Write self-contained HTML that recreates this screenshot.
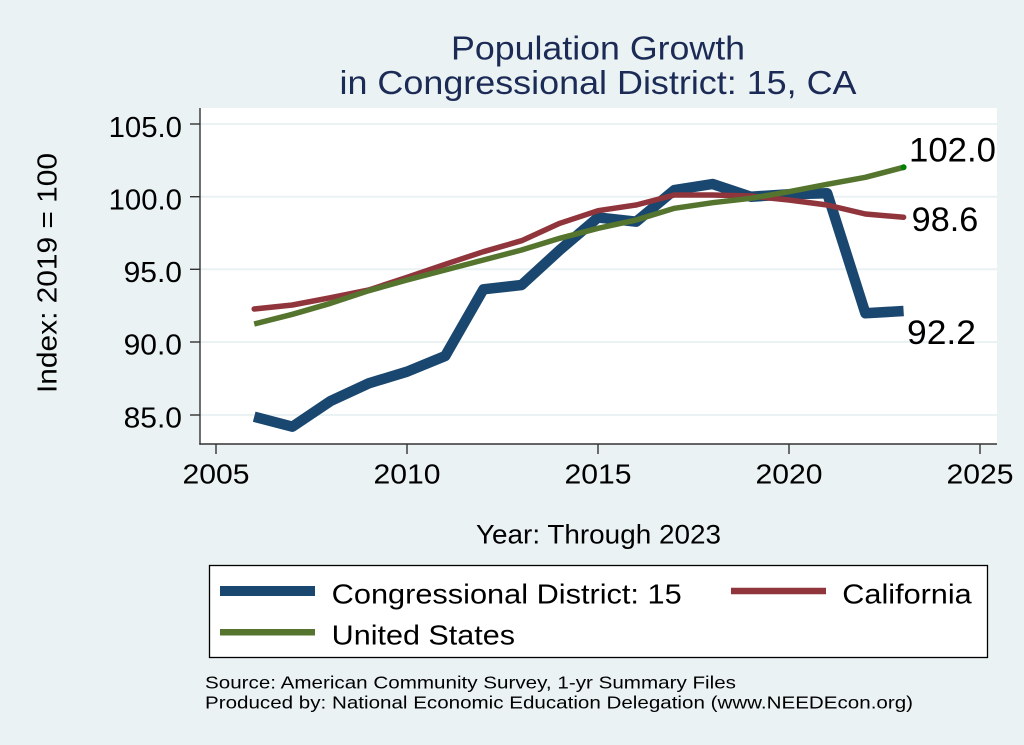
<!DOCTYPE html>
<html>
<head>
<meta charset="utf-8">
<style>
  html,body{margin:0;padding:0;background:#eaf2f3;}
  svg{display:block;}
  text{font-family:"Liberation Sans", Arial, sans-serif;}
</style>
</head>
<body>
<svg width="1024" height="745" viewBox="0 0 1024 745" xmlns="http://www.w3.org/2000/svg">
  <rect x="0" y="0" width="1024" height="745" fill="#eaf2f3"/>

  <!-- Title -->
  <text x="598" y="59.5" font-size="33" fill="#1c2b56" text-anchor="middle" textLength="294" lengthAdjust="spacingAndGlyphs">Population Growth</text>
  <text x="598" y="94" font-size="33" fill="#1c2b56" text-anchor="middle" textLength="517" lengthAdjust="spacingAndGlyphs">in Congressional District: 15, CA</text>

  <!-- Plot region -->
  <rect x="200" y="108" width="797" height="336" fill="#ffffff"/>

  <!-- Gridlines -->
  <g stroke="#eaf2f3" stroke-width="2">
    <line x1="200" y1="124" x2="997" y2="124"/>
    <line x1="200" y1="196.7" x2="997" y2="196.7"/>
    <line x1="200" y1="269.3" x2="997" y2="269.3"/>
    <line x1="200" y1="342" x2="997" y2="342"/>
    <line x1="200" y1="415" x2="997" y2="415"/>
  </g>

  <!-- Axes -->
  <g stroke="#333333" stroke-width="1.4" fill="none">
    <line x1="200" y1="108" x2="200" y2="444.7"/>
    <line x1="199.3" y1="444" x2="997" y2="444"/>
    <!-- y ticks -->
    <line x1="190" y1="124" x2="200" y2="124"/>
    <line x1="190" y1="196.7" x2="200" y2="196.7"/>
    <line x1="190" y1="269.3" x2="200" y2="269.3"/>
    <line x1="190" y1="342" x2="200" y2="342"/>
    <line x1="190" y1="415" x2="200" y2="415"/>
    <!-- x ticks -->
    <line x1="216" y1="444" x2="216" y2="454"/>
    <line x1="407" y1="444" x2="407" y2="454"/>
    <line x1="598" y1="444" x2="598" y2="454"/>
    <line x1="789" y1="444" x2="789" y2="454"/>
    <line x1="980" y1="444" x2="980" y2="454"/>
  </g>

  <!-- Y tick labels -->
  <g font-size="29" fill="#000" text-anchor="end">
    <text x="182" y="136.8" textLength="73.4" lengthAdjust="spacingAndGlyphs">105.0</text>
    <text x="182" y="209.4" textLength="73.4" lengthAdjust="spacingAndGlyphs">100.0</text>
    <text x="182" y="282" textLength="58.4" lengthAdjust="spacingAndGlyphs">95.0</text>
    <text x="182" y="354.7" textLength="58.4" lengthAdjust="spacingAndGlyphs">90.0</text>
    <text x="182" y="427.7" textLength="58.4" lengthAdjust="spacingAndGlyphs">85.0</text>
  </g>

  <!-- X tick labels -->
  <g font-size="28" fill="#000" text-anchor="middle">
    <text x="216" y="483.3" textLength="67" lengthAdjust="spacingAndGlyphs">2005</text>
    <text x="407" y="483.3" textLength="67" lengthAdjust="spacingAndGlyphs">2010</text>
    <text x="598" y="483.3" textLength="67" lengthAdjust="spacingAndGlyphs">2015</text>
    <text x="789" y="483.3" textLength="67" lengthAdjust="spacingAndGlyphs">2020</text>
    <text x="980" y="483.3" textLength="67" lengthAdjust="spacingAndGlyphs">2025</text>
  </g>

  <!-- Axis titles -->
  <text x="598.5" y="543.5" font-size="26.5" fill="#000" text-anchor="middle" textLength="245" lengthAdjust="spacingAndGlyphs">Year: Through 2023</text>
  <text transform="translate(56.5,273) rotate(-90)" x="0" y="0" font-size="28" fill="#000" text-anchor="middle" textLength="240" lengthAdjust="spacingAndGlyphs">Index: 2019 = 100</text>

  <!-- Series: Congressional District (blue) -->
  <polyline fill="none" stroke="#1a476f" stroke-width="10.5" stroke-linejoin="round" stroke-linecap="butt"
    points="254.2,416.7 292.4,426.7 330.6,401 368.8,383.3 407,371.7 445.2,356 483.4,289.3 521.6,285 559.8,250 598,217.5 636.2,221.7 674.4,190 712.6,184 750.8,196.7 789,194.3 827.2,193.3 865.4,313.3 903.6,311"/>

  <!-- Series: California (red) -->
  <polyline fill="none" stroke="#90353b" stroke-width="5.5" stroke-linejoin="round" stroke-linecap="round"
    points="254.2,309 292.4,305 330.6,297.7 368.8,290 407,277.3 445.2,264.3 483.4,251.7 521.6,240.7 559.8,223.3 598,210.7 636.2,205 674.4,195 712.6,195 750.8,196 789,200 827.2,205 865.4,214 903.6,217.3"/>

  <!-- Series: United States (green) -->
  <polyline fill="none" stroke="#55752f" stroke-width="5.5" stroke-linejoin="round" stroke-linecap="butt"
    points="254.2,324 292.4,314.3 330.6,303.3 368.8,290.7 407,280 445.2,270 483.4,260 521.6,250 559.8,238.3 598,228.3 636.2,220 674.4,208.3 712.6,202.7 750.8,198.3 789,191.7 827.2,184.3 865.4,177.3 903.6,167.3"/>
  <circle cx="903.6" cy="167.3" r="3" fill="#008000"/>

  <!-- End labels -->
  <g font-size="34" fill="#000">
    <text x="909" y="161.7" textLength="87" lengthAdjust="spacingAndGlyphs">102.0</text>
    <text x="911.7" y="231" textLength="66.6" lengthAdjust="spacingAndGlyphs">98.6</text>
    <text x="907" y="344" textLength="69" lengthAdjust="spacingAndGlyphs">92.2</text>
  </g>

  <!-- Legend -->
  <rect x="209.5" y="565.5" width="778" height="92" fill="#ffffff" stroke="#000" stroke-width="1.3"/>
  <line x1="220" y1="591" x2="315" y2="591" stroke="#1a476f" stroke-width="10"/>
  <line x1="220" y1="632.3" x2="315" y2="632.3" stroke="#55752f" stroke-width="6.5"/>
  <line x1="731" y1="591" x2="826" y2="591" stroke="#90353b" stroke-width="6.5"/>
  <g font-size="28" fill="#000">
    <text x="331.7" y="603.3" textLength="350" lengthAdjust="spacingAndGlyphs">Congressional District: 15</text>
    <text x="331.7" y="644.3" textLength="183.3" lengthAdjust="spacingAndGlyphs">United States</text>
    <text x="842.3" y="603.3" textLength="129.4" lengthAdjust="spacingAndGlyphs">California</text>
  </g>

  <!-- Source notes -->
  <g font-size="17.5" fill="#000">
    <text x="205" y="688.3" textLength="531" lengthAdjust="spacingAndGlyphs">Source: American Community Survey, 1-yr Summary Files</text>
    <text x="205" y="708.3" textLength="708" lengthAdjust="spacingAndGlyphs">Produced by: National Economic Education Delegation (www.NEEDEcon.org)</text>
  </g>
</svg>
</body>
</html>
